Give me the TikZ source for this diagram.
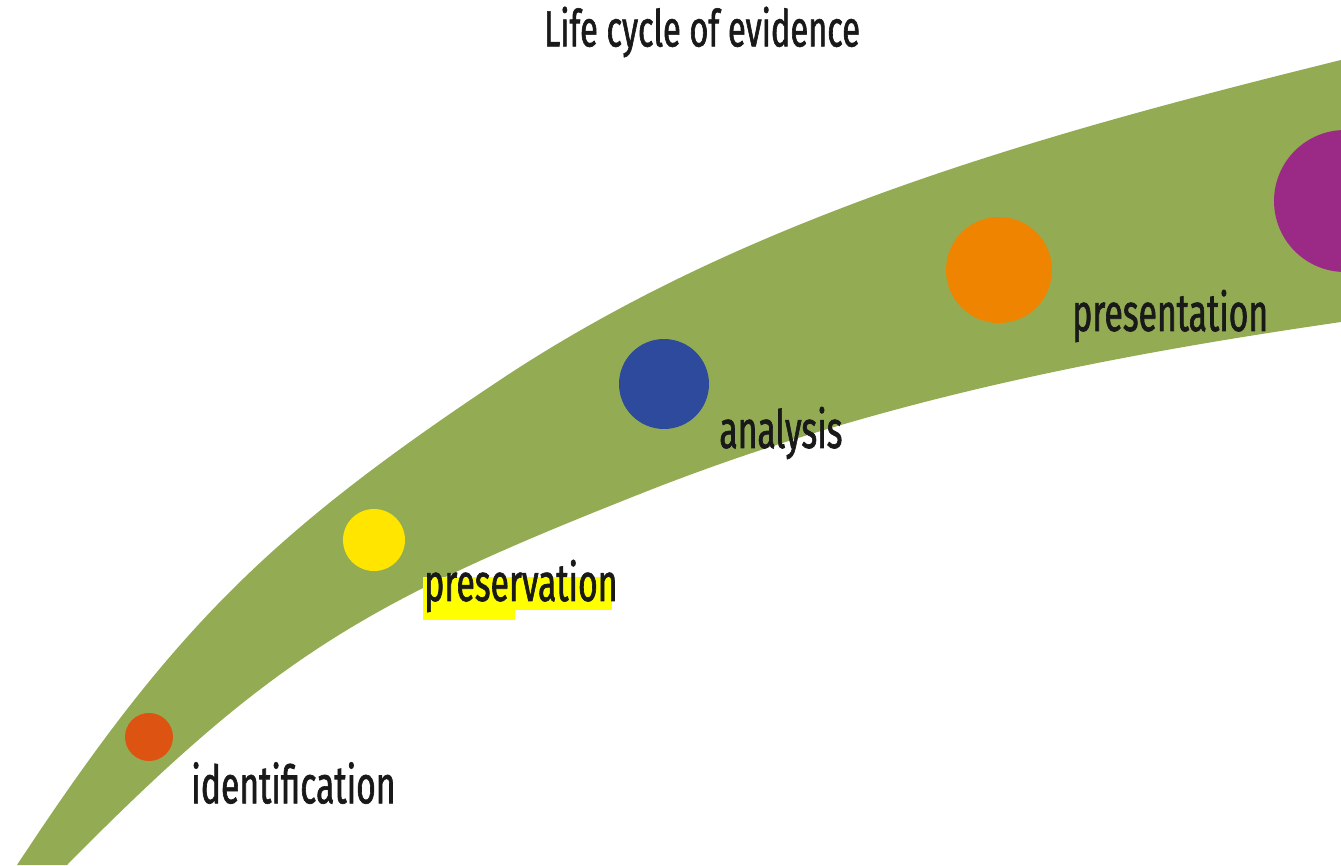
\documentclass[tikz,border=0pt]{standalone}
\usepackage{fontspec}
\setmainfont{Fira Sans}[FakeStretch=0.64,FakeBold=1.2]
\usepackage{xcolor}
\usepackage{tikz}
\definecolor{band}{HTML}{93AC53}
\definecolor{idred}{HTML}{DD5412}
\definecolor{presyellow}{HTML}{FFE500}
\definecolor{anblue}{HTML}{2D4A9D}
\definecolor{prorange}{HTML}{EE8400}
\definecolor{endpurple}{HTML}{9B2A87}
\definecolor{hilite}{HTML}{FFFF00}

\begin{document}
\begin{tikzpicture}[x=0.02cm,y=-0.02cm,
  dot/.style={circle,inner sep=0pt,minimum size=#1*0.02cm},
  lbl/.style={anchor=west,inner sep=0pt,font=\fontsize{30}{30}\selectfont,text=black!90}]
\useasboundingbox (0,0) rectangle (1341,865);
\clip (0,0) rectangle (1341,865);
% band
\fill[band] (17,865) .. controls (171,631) and (267,535) .. (500,380)
  .. controls (750,214) and (1050,132) .. (1341,60)
  -- (1341,322) .. controls (1100,357) and (875,402) .. (650,490)
  .. controls (371,600) and (277,652) .. (67,865) -- cycle;
% stages
\node[dot=48,fill=idred] (ident) at (149,737) {};
\node[dot=62,fill=presyellow] (pres) at (374,540) {};
\node[dot=90,fill=anblue] (anal) at (664,384) {};
\node[dot=106,fill=prorange] (prsnt) at (999,270) {};
\node[dot=142,fill=endpurple] (last) at (1345,201) {};
% highlight
\fill[hilite] (423,577) rectangle (612,610);
\fill[hilite] (423,610) rectangle (515,620);
% labels
\node[lbl] (identlbl) at (191,783) {identification};
\node[lbl] (preslbl) at (424,586) {preservation};
\node[lbl] (anallbl) at (719,433) {analysis};
\node[lbl] (prsntlbl) at (1072,316) {presentation};
\node[lbl,anchor=center,font=\fontsize{29}{29}\selectfont] (title) at (702,32) {Life cycle of evidence};
\end{tikzpicture}
\end{document}
